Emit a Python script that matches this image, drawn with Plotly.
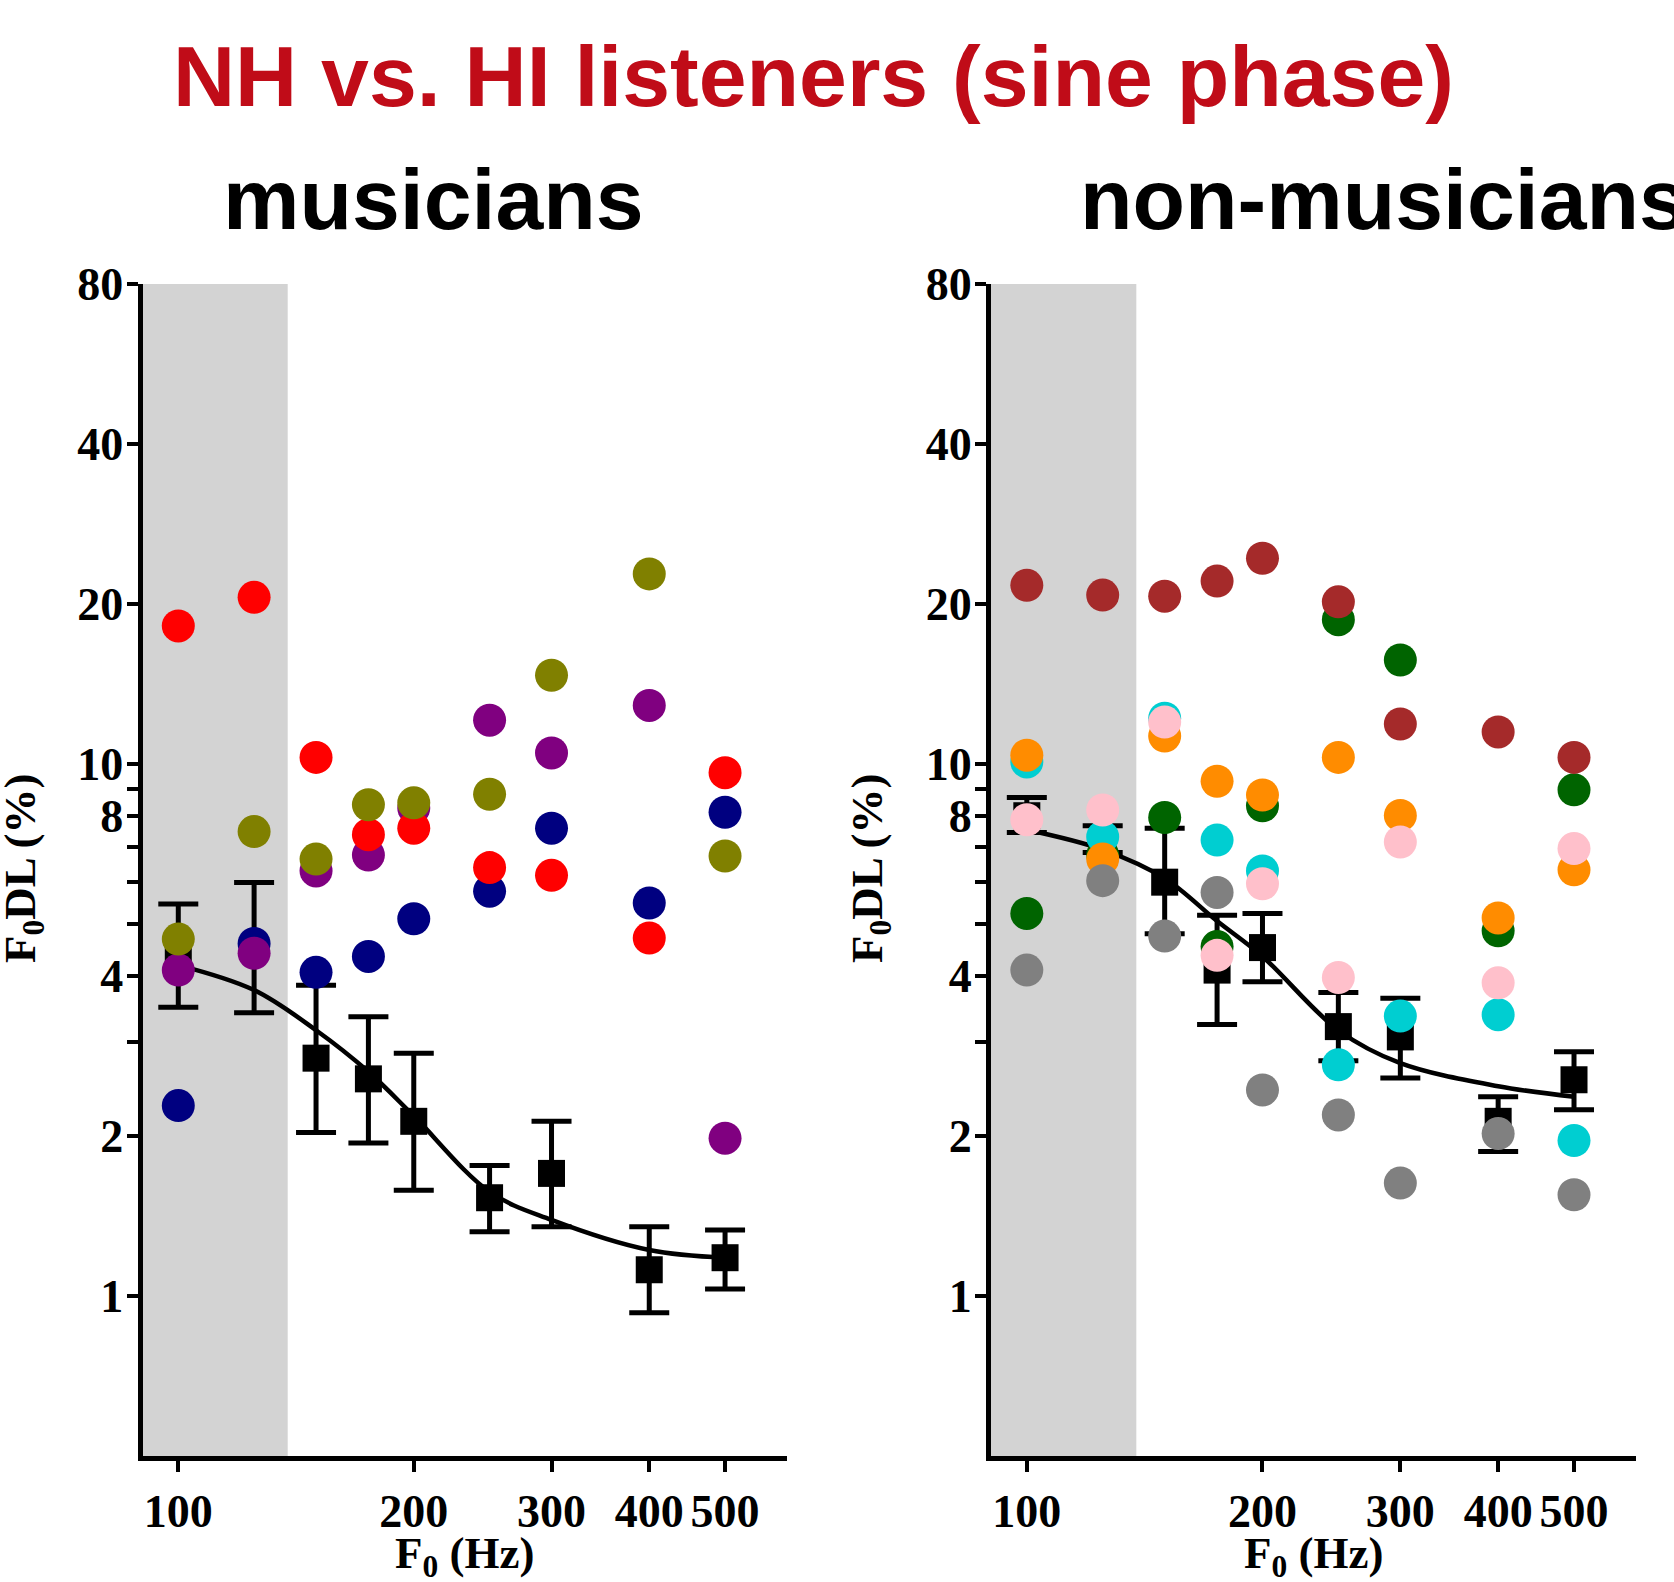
import numpy as np
import plotly.graph_objects as go

W, H = 1674, 1582

# Fundamental frequencies tested (Hz)
f0 = [100, 125, 150, 175, 200, 250, 300, 400, 500]

# Individual F0DLs (%) - musicians
mus_red = [18.2, 20.6, 10.3, 7.37, 7.58, 6.39, 6.18, 4.71, 9.64]
mus_olive = [4.69, 7.47, 6.63, 8.39, 8.46, 8.78, 14.7, 22.8, 6.72]
mus_navy = [2.28, 4.60, 4.06, 4.35, 5.12, 5.77, 7.58, 5.48, 8.12]
mus_purple = [4.10, 4.41, 6.30, 6.75, 8.27, 12.1, 10.5, 12.9, 1.98]

# Group mean with error-bar limits, and fitted curve - musicians
mus_mean = [4.4, 4.5, 2.80, 2.56, 2.13, 1.53, 1.70, 1.12, 1.18]
mus_upper = [5.46, 5.99, 3.84, 3.35, 2.86, 1.76, 2.13, 1.35, 1.33]
mus_lower = [3.49, 3.41, 2.03, 1.94, 1.58, 1.32, 1.35, 0.93, 1.03]
mus_fit = [4.19, 3.76, 3.16, 2.64, 2.18, 1.57, 1.39, 1.22, 1.18]

# Individual F0DLs (%) - non-musicians
nm_green = [5.24, 6.75, 7.94, 4.54, 8.35, 18.7, 15.7, 4.86, 8.95]
nm_brown = [21.7, 20.8, 20.7, 22.1, 24.4, 20.2, 11.9, 11.5, 10.3]
nm_cyan = [10.1, 7.30, 12.2, 7.2, 6.30, 2.72, 3.36, 3.38, 1.96]
nm_orange = [10.4, 6.63, 11.3, 9.29, 8.75, 10.3, 8.01, 5.14, 6.33]
nm_gray = [4.10, 6.04, 4.75, 5.74, 2.44, 2.19, 1.63, 2.02, 1.55]
nm_pink = [7.86, 8.2, 12.0, 4.37, 5.96, 3.97, 7.14, 3.88, 6.94]

# Group mean with error-bar limits, and fitted curve - non-musicians
nm_mean = [8.0, 7.2, 6.0, 4.1, 4.52, 3.21, 3.07, 2.13, 2.55]
nm_upper = [8.66, 7.66, 7.58, 5.20, 5.24, 3.72, 3.63, 2.37, 2.88]
nm_lower = [7.44, 6.82, 4.8, 3.24, 3.90, 2.77, 2.57, 1.87, 2.24]
nm_fit = [7.53, 6.91, 6.10, 5.07, 4.35, 3.16, 2.74, 2.48, 2.37]

# Axis ranges and the shaded low-F0 band
x_range = [90, 600]
y_range = [0.5, 80]
band = [90, 138]

y_tickvals = [1, 2, 3, 4, 5, 6, 7, 8, 9, 10, 20, 40, 80]
y_ticktext = ["1", "2", "", "4", "", "", "", "8", "", "10", "20", "40", "80"]
x_tickvals = [100, 200, 300, 400, 500]
x_ticktext = ["100", "200", "300", "400", "500"]

panels = [
    dict(
        xa="x", ya="y",
        dots=[(mus_navy, "#000080"), (mus_purple, "#800080"),
              (mus_red, "#FF0000"), (mus_olive, "#808000")],
        mean=mus_mean, upper=mus_upper, lower=mus_lower, fit=mus_fit,
    ),
    dict(
        xa="x2", ya="y2",
        dots=[(nm_green, "#006400"), (nm_brown, "#A52A2A"),
              (nm_cyan, "#00CED1"), (nm_orange, "#FF8C00"),
              (nm_gray, "#808080"), (nm_pink, "#FFC0CB")],
        mean=nm_mean, upper=nm_upper, lower=nm_lower, fit=nm_fit,
    ),
]

fig = go.Figure()

for p in panels:
    # shaded band
    fig.add_trace(go.Scatter(
        x=[band[0], band[1], band[1], band[0], band[0]],
        y=[y_range[0], y_range[0], y_range[1], y_range[1], y_range[0]],
        fill="toself", fillcolor="#D3D3D3", mode="lines",
        line=dict(width=0, color="#D3D3D3"),
        xaxis=p["xa"], yaxis=p["ya"], showlegend=False, hoverinfo="skip",
    ))
    # fitted curve
    fig.add_trace(go.Scatter(
        x=f0, y=p["fit"], mode="lines",
        line=dict(color="black", width=4.5, shape="spline", smoothing=1.0),
        xaxis=p["xa"], yaxis=p["ya"], showlegend=False,
    ))
    mean = np.array(p["mean"])
    fig.add_trace(go.Scatter(
        x=f0, y=mean, mode="markers",
        marker=dict(symbol="square", size=27, color="black"),
        error_y=dict(type="data", symmetric=False,
                     array=np.array(p["upper"]) - mean,
                     arrayminus=mean - np.array(p["lower"]),
                     color="black", thickness=5, width=20),
        xaxis=p["xa"], yaxis=p["ya"], showlegend=False,
    ))
    for vals, col in p["dots"]:
        fig.add_trace(go.Scatter(
            x=f0, y=vals, mode="markers",
            marker=dict(size=33, color=col, line=dict(width=0)),
            xaxis=p["xa"], yaxis=p["ya"], showlegend=False,
        ))

tick_font = dict(family="Liberation Serif", size=46, color="black", weight="bold")

def px_x(v):
    return v / W

def px_y(v):
    return 1 - v / H

axis_common = dict(
    type="log", showline=True, linewidth=5, linecolor="black",
    ticks="outside", ticklen=11, tickwidth=4, tickcolor="black",
    showgrid=False, zeroline=False, tickfont=tick_font, automargin=False,
)

y_dom = [px_y(1456), px_y(284)]
fig.update_layout(
    template="none",
    xaxis=dict(axis_common, domain=[px_x(142.5), px_x(787)],
               range=list(np.log10(x_range)), tickvals=x_tickvals,
               ticktext=x_ticktext, anchor="y"),
    yaxis=dict(axis_common, domain=y_dom, range=list(np.log10(y_range)),
               tickvals=y_tickvals, ticktext=y_ticktext, anchor="x",
               ticklabelstandoff=-6),
    xaxis2=dict(axis_common, domain=[px_x(991), px_x(1636)],
                range=list(np.log10(x_range)), tickvals=x_tickvals,
                ticktext=x_ticktext, anchor="y2"),
    yaxis2=dict(axis_common, domain=y_dom, range=list(np.log10(y_range)),
                tickvals=y_tickvals, ticktext=y_ticktext, anchor="x2",
                ticklabelstandoff=-6),
    width=W, height=H, margin=dict(l=0, r=0, t=0, b=0, pad=0),
    paper_bgcolor="white", plot_bgcolor="white", showlegend=False,
)

sans = "Liberation Sans, Arial, sans-serif"
serif = "Liberation Serif, Times New Roman, serif"
annots = [
    dict(text="NH vs. HI listeners (sine phase)", x=px_x(813), y=px_y(76),
         xanchor="center", yanchor="middle",
         font=dict(family=sans, size=86, color="#C00C18", weight="bold")),
    dict(text="musicians", x=px_x(221), y=px_y(199), xanchor="left", yanchor="middle",
         font=dict(family=sans, size=86, color="black", weight="bold")),
    dict(text="non-musicians", x=px_x(1078), y=px_y(199), xanchor="left", yanchor="middle",
         font=dict(family=sans, size=86, color="black", weight="bold")),
    dict(text="F<sub>0</sub>DL (%)", x=px_x(23), y=px_y(868), textangle=-90,
         xanchor="center", yanchor="middle",
         font=dict(family=serif, size=45, color="black", weight="bold")),
    dict(text="F<sub>0</sub>DL (%)", x=px_x(870), y=px_y(868), textangle=-90,
         xanchor="center", yanchor="middle",
         font=dict(family=serif, size=45, color="black", weight="bold")),
    dict(text="F<sub>0</sub> (Hz)", x=px_x(464), y=px_y(1556),
         xanchor="center", yanchor="middle",
         font=dict(family=serif, size=45, color="black", weight="bold")),
    dict(text="F<sub>0</sub> (Hz)", x=px_x(1313), y=px_y(1556),
         xanchor="center", yanchor="middle",
         font=dict(family=serif, size=45, color="black", weight="bold")),
]
for a in annots:
    a.update(xref="paper", yref="paper", showarrow=False)
fig.update_layout(annotations=annots)

fig.write_html("out.html")
